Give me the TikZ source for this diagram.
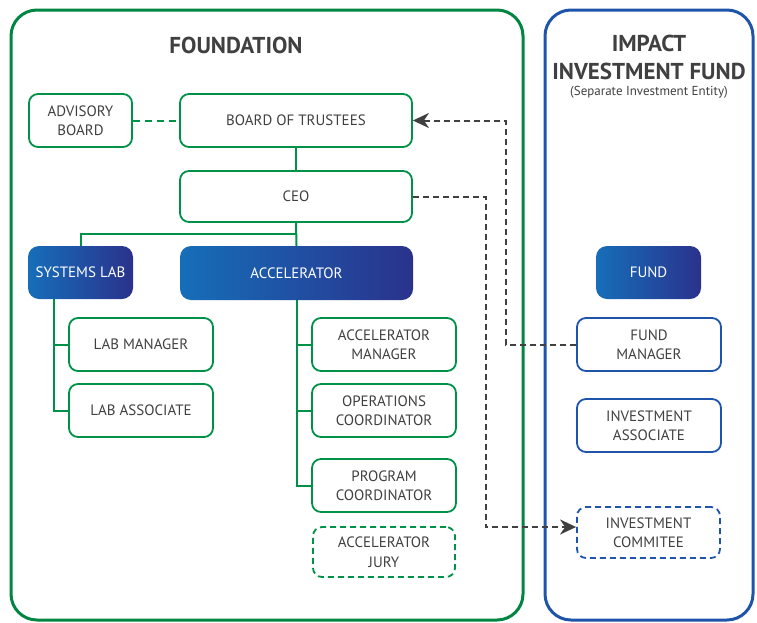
\documentclass[tikz,border=0pt]{standalone}
\usepackage{fontspec}
\setmainfont{PT Sans}
\usepackage{tikz}
\usetikzlibrary{positioning,arrows.meta,calc}
\definecolor{mygreen}{RGB}{0,145,72}
\definecolor{mydarkgreen}{RGB}{0,125,62}
\definecolor{myblue}{RGB}{30,85,170}
\definecolor{mybluel}{RGB}{22,110,185}
\definecolor{myblued}{RGB}{42,50,140}
\definecolor{mygray}{RGB}{64,64,64}

\begin{document}
\begin{tikzpicture}[x=1pt,y=-1pt,
	every node/.style={align=center,text=mygray,font=\fontsize{15}{19.5}\selectfont,rounded corners=9pt,inner sep=2pt},
	greennode/.style={draw=mygreen,line width=1.8pt,fill=white},
	bluenode/.style={draw=myblue,line width=1.8pt,fill=white},
	headnode/.style={left color=mybluel,right color=myblued,text=white,rounded corners=11pt},
	titlenode/.style={font=\fontsize{23}{28}\selectfont\bfseries,inner sep=0pt},
	treeline/.style={draw=mygreen,line width=2pt},
	linkline/.style={draw=mygray,line width=2pt,dash pattern=on 6pt off 4pt,-{Stealth[length=16pt,width=15pt,inset=5pt]}},
	%every fit/.style={ellipse,draw},
	]

	\useasboundingbox (0,0) rectangle (757,622);

	% the two frames
	\draw[mydarkgreen!60!mygreen,line width=3pt,rounded corners=26pt] (11,10) rectangle (523,620);
	\draw[myblue,line width=3pt,rounded corners=26pt] (545,10) rectangle (753,620);

	% titles
	\node[titlenode] (foundtitle) at (236,45) {FOUNDATION};
	\node[titlenode] (fundtitle) at (649,57) {IMPACT\\INVESTMENT FUND};
	\node[font=\fontsize{13}{15}\selectfont,inner sep=0pt] (fundsub) at (649,92) {(Separate Investment Entity)};

	% the foundation
	\node[greennode,minimum width=103pt,minimum height=53pt] (advisory) at (80.5,120.5) {ADVISORY\\BOARD};
	\node[greennode,minimum width=232pt,minimum height=53pt] (board) at (296,120.5) {BOARD OF TRUSTEES};
	\node[greennode,minimum width=232pt,minimum height=51pt] (ceo) at (296,196.5) {CEO};
	\node[headnode,minimum width=105pt,minimum height=53pt] (syslab) at (80.5,272.5) {SYSTEMS LAB};
	\node[headnode,minimum width=233pt,minimum height=54pt] (acc) at (296.5,273) {ACCELERATOR};

	% lab staff
	\node[greennode,minimum width=144pt,minimum height=53pt] (labmgr) at (141,344.5) {LAB MANAGER};
	\node[greennode,minimum width=144pt,minimum height=53pt] (labassoc) at (141,410.5) {LAB ASSOCIATE};

	% accelerator staff
	\node[greennode,minimum width=144pt,minimum height=53pt] (accmgr) at (384,344.5) {ACCELERATOR\\MANAGER};
	\node[greennode,minimum width=144pt,minimum height=53pt] (opscoord) at (384,410.5) {OPERATIONS\\COORDINATOR};
	\node[greennode,minimum width=144pt,minimum height=53pt] (progcoord) at (384,485.5) {PROGRAM\\COORDINATOR};
	\node[greennode,dash pattern=on 6pt off 4pt,minimum width=142pt,minimum height=50pt] (jury) at (384,552) {ACCELERATOR\\JURY};

	% the fund
	\node[headnode,minimum width=105pt,minimum height=53pt] (fund) at (648.5,272.5) {FUND};
	\node[bluenode,minimum width=144pt,minimum height=53pt] (fundmgr) at (649,344.5) {FUND\\MANAGER};
	\node[bluenode,minimum width=144pt,minimum height=53pt] (invassoc) at (649,425.5) {INVESTMENT\\ASSOCIATE};
	\node[bluenode,dash pattern=on 6pt off 4pt,minimum width=143pt,minimum height=51pt] (invcom) at (648.5,532.5) {INVESTMENT\\COMMITEE};

	% tree edges
	\draw[treeline,dash pattern=on 7pt off 5pt] (advisory) -- (board);
	\draw[treeline] (board) -- (ceo);
	\draw[treeline] (ceo.south) -- ++(0,11) -| (syslab.north);
	\draw[treeline] (ceo.south) -- (acc.north);
	\draw[treeline] ([xshift=-26.5pt]syslab.south) |- (labmgr.west);
	\draw[treeline] ([xshift=-26.5pt]syslab.south) |- (labassoc.west);
	\draw[treeline] (acc.south) |- (accmgr.west);
	\draw[treeline] (acc.south) |- (opscoord.west);
	\draw[treeline] (acc.south) |- (progcoord.west);

	% links to the fund
	\draw[linkline] (fundmgr.west) -- ++(-70,0) |- (board.east);
	\draw[linkline] (ceo.east) -- ++(73,0) |- ([yshift=5.5pt]invcom.west);

\end{tikzpicture}
\end{document}
